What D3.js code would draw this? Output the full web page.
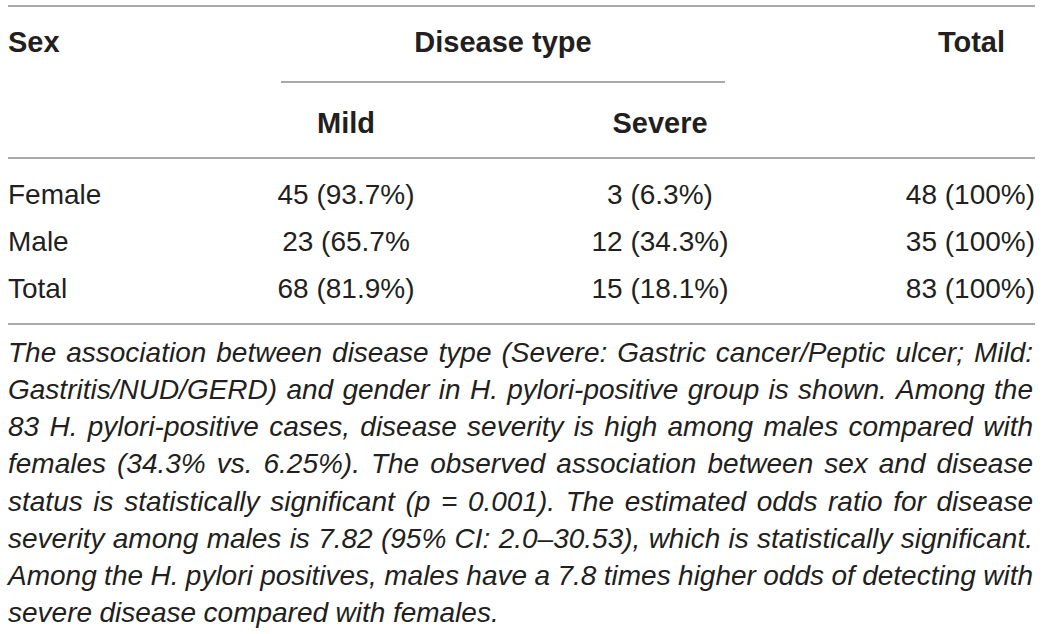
<!DOCTYPE html>
<html>
<head>
<meta charset="utf-8">
<script src="https://cdn.jsdelivr.net/npm/d3@7"></script>
<style>
  body { margin: 0; background: #fff; }
  svg text { font-family: "Liberation Sans", Arial, sans-serif; fill: #231f20; }
</style>
</head>
<body>
<div id="table"></div>
<script>
const rowLabels = ["Female", "Male", "Total"];
const mildCells = ["45 (93.7%)", "23 (65.7%", "68 (81.9%)"];
const severeCells = ["3 (6.3%)", "12 (34.3%)", "15 (18.1%)"];
const totalCells = ["48 (100%)", "35 (100%)", "83 (100%)"];
const columns = ["Sex", "Mild", "Severe", "Total"];
const groupLabel = "Disease type";
const captionLines = [
  "The association between disease type (Severe: Gastric cancer/Peptic ulcer; Mild:",
  "Gastritis/NUD/GERD) and gender in H. pylori-positive group is shown. Among the",
  "83 H. pylori-positive cases, disease severity is high among males compared with",
  "females (34.3% vs. 6.25%). The observed association between sex and disease",
  "status is statistically significant (p = 0.001). The estimated odds ratio for disease",
  "severity among males is 7.82 (95% CI: 2.0\u201330.53), which is statistically significant.",
  "Among the H. pylori positives, males have a 7.8 times higher odds of detecting with",
  "severe disease compared with females."
];

const width = 1042, height = 634;
const left = 8, right = 1035;

const svg = d3.select("#table")
  .append("svg")
  .attr("width", width)
  .attr("height", height);

// column centres
const x = d3.scaleOrdinal()
  .domain(columns)
  .range([left, 346, 660, right]);

const y = d3.scalePoint()
  .domain(rowLabels)
  .range([204, 298]);

const rule = (x1, x2, yy) => svg.append("line")
  .attr("x1", x1).attr("x2", x2)
  .attr("y1", yy).attr("y2", yy)
  .attr("stroke", "#8c8c8c")
  .attr("stroke-width", 1.5);

rule(left, right, 6);
rule(281, 725, 82);
rule(left, right, 158);
rule(left, right, 324);

// header
const head = svg.append("g").attr("font-weight", "bold").attr("font-size", 29);
head.append("text").attr("x", x("Sex")).attr("y", 52).text("Sex");
head.append("text").attr("x", 503).attr("y", 52).attr("text-anchor", "middle").text(groupLabel);
head.append("text").attr("x", 1005).attr("y", 52).attr("text-anchor", "end").text("Total");
head.append("text").attr("x", x("Mild")).attr("y", 133).attr("text-anchor", "middle").text("Mild");
head.append("text").attr("x", x("Severe")).attr("y", 133).attr("text-anchor", "middle").text("Severe");

// body rows
const rows = svg.append("g").attr("font-size", 28)
  .selectAll("g")
  .data(rowLabels.map((r, i) => ({ r, mild: mildCells[i], severe: severeCells[i], total: totalCells[i] })))
  .enter()
  .append("g")
  .attr("transform", d => `translate(0,${y(d.r)})`);

rows.append("text").attr("x", x("Sex")).text(d => d.r);
rows.append("text").attr("x", x("Mild")).attr("text-anchor", "middle").text(d => d.mild);
rows.append("text").attr("x", x("Severe")).attr("text-anchor", "middle").text(d => d.severe);
rows.append("text").attr("x", x("Total")).attr("text-anchor", "end").text(d => d.total);

// caption, justified word by word
const cap = svg.append("g").attr("font-size", 28).attr("font-style", "italic");
const capY = d3.scaleLinear().domain([0, captionLines.length - 1]).range([362, 622]);
const capRight = 1033;
const minGap = 6;

captionLines.forEach((line, i) => {
  const words = line.split(" ");
  const g = cap.append("g");
  const nodes = words.map(w => g.append("text").attr("y", capY(i)).text(w));
  let widths = nodes.map(n => n.node().getComputedTextLength());
  const last = i === captionLines.length - 1;
  const avail = capRight - left;
  let gap = last ? 7.5 : (avail - d3.sum(widths)) / (words.length - 1);
  if (gap < minGap) {
    // squeeze the words slightly so the line still fits
    gap = minGap;
    const k = (avail - gap * (words.length - 1)) / d3.sum(widths);
    widths = widths.map(w => w * k);
    nodes.forEach((n, j) => n.attr("textLength", widths[j]).attr("lengthAdjust", "spacingAndGlyphs"));
  }
  let cx = left;
  nodes.forEach((n, j) => {
    n.attr("x", cx);
    cx += widths[j] + gap;
  });
});
</script>
</body>
</html>
